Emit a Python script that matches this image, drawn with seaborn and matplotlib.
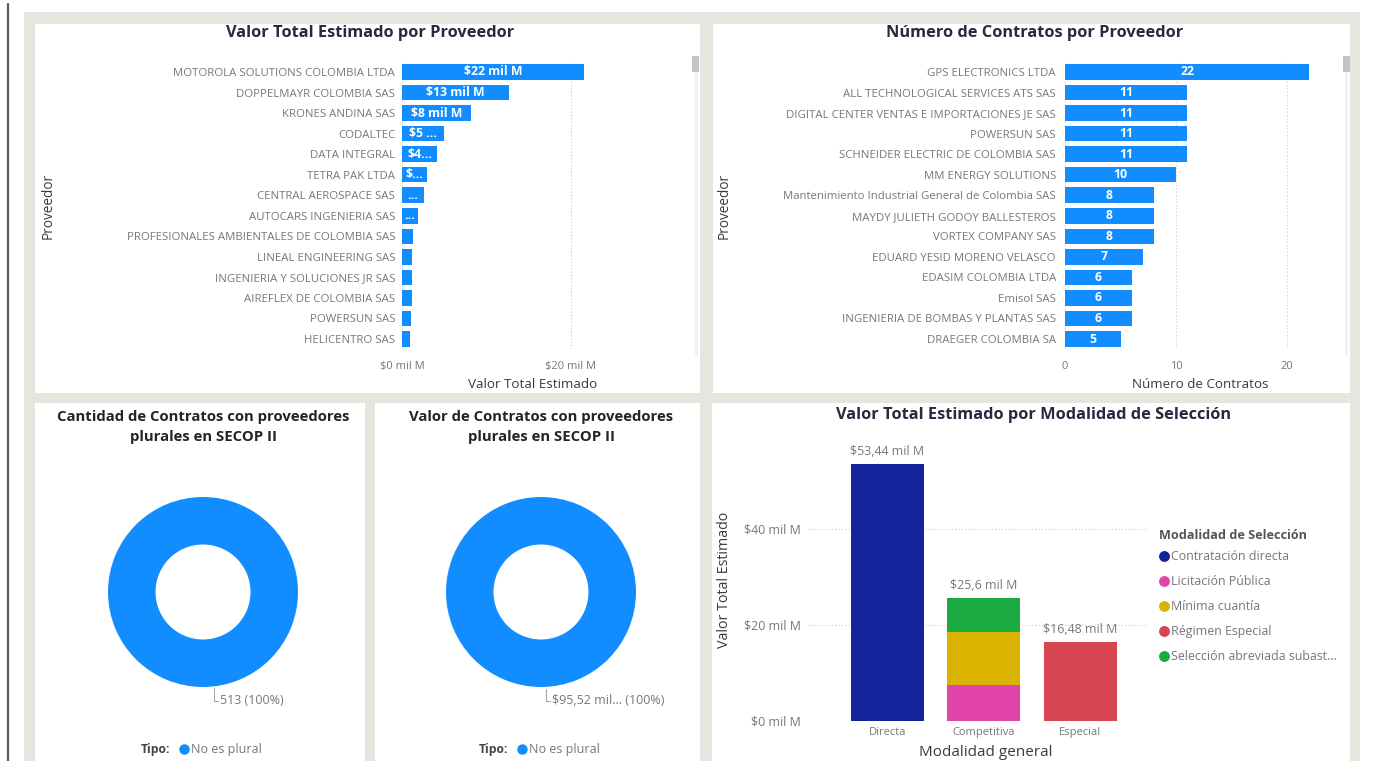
import numpy as np
import pandas as pd
import matplotlib
matplotlib.use("Agg")
import matplotlib.pyplot as plt
import seaborn as sns
from matplotlib.patches import Rectangle
from matplotlib.lines import Line2D

# ---------------- data ----------------
prov_valor = ["MOTOROLA SOLUTIONS COLOMBIA LTDA", "DOPPELMAYR COLOMBIA SAS", "KRONES ANDINA SAS",
              "CODALTEC", "DATA INTEGRAL", "TETRA PAK LTDA", "CENTRAL AEROSPACE SAS",
              "AUTOCARS INGENIERIA SAS", "PROFESIONALES AMBIENTALES DE COLOMBIA SAS",
              "LINEAL ENGINEERING SAS", "INGENIERIA Y SOLUCIONES JR SAS", "AIREFLEX DE COLOMBIA SAS",
              "POWERSUN SAS", "HELICENTRO SAS"]
valor_mil_m = [21.5, 12.7, 8.2, 5.0, 4.2, 3.0, 2.6, 1.9, 1.3, 1.2, 1.2, 1.15, 1.1, 1.0]
valor_labels = ["$22 mil M", "$13 mil M", "$8 mil M", "$5 ...", "$4...", "$...", "...", "...",
                "", "", "", "", "", ""]

prov_contratos = ["GPS ELECTRONICS LTDA", "ALL TECHNOLOGICAL SERVICES ATS SAS",
                  "DIGITAL CENTER VENTAS E IMPORTACIONES JE SAS", "POWERSUN SAS",
                  "SCHNEIDER ELECTRIC DE COLOMBIA SAS", "MM ENERGY SOLUTIONS",
                  "Mantenimiento Industrial General de Colombia SAS", "MAYDY JULIETH GODOY BALLESTEROS",
                  "VORTEX COMPANY SAS", "EDUARD YESID MORENO VELASCO", "EDASIM COLOMBIA LTDA",
                  "Emisol SAS", "INGENIERIA DE BOMBAS Y PLANTAS SAS", "DRAEGER COLOMBIA SA"]
n_contratos = [22, 11, 11, 11, 11, 10, 8, 8, 8, 7, 6, 6, 6, 5]

tipo = ["No es plural"]
cantidad_tipo = [513]
valor_tipo_label = ["$95,52 mil... (100%)"]
cantidad_tipo_label = ["513 (100%)"]

general_cats = ["Directa", "Competitiva", "Especial"]
mod_general = ["Directa", "Competitiva", "Competitiva", "Competitiva", "Especial"]
mod_seleccion = ["Contratación directa", "Licitación Pública", "Mínima cuantía",
                 "Selección abreviada subast...", "Régimen Especial"]
mod_valor = [53.44, 7.4, 11.1, 7.1, 16.48]
legend_order = ["Contratación directa", "Licitación Pública", "Mínima cuantía",
                "Régimen Especial", "Selección abreviada subast..."]
mod_colors = {"Contratación directa": "#12239E", "Licitación Pública": "#E044A7",
              "Mínima cuantía": "#D9B300", "Régimen Especial": "#D64550",
              "Selección abreviada subast...": "#1AAB40"}

BLUE = "#118DFF"
TITLE_C = "#252a40"
TICK_C = "#777777"
LAB_C = "#3a3a3a"

# ---------------- setup ----------------
sns.set_theme(style="white")
plt.rcParams["font.family"] = ["Open Sans", "DejaVu Sans"]

W, H = 1377, 761
fig = plt.figure(figsize=(W / 100, H / 100), dpi=100)
fig.patch.set_facecolor("white")


def box(x0, y0, x1, y1):
    return [x0 / W, 1 - y1 / H, (x1 - x0) / W, (y1 - y0) / H]


def fx(x):
    return x / W


def fy(y):
    return 1 - y / H


def rect(x0, y0, x1, y1, color, z=-5):
    fig.add_artist(Rectangle((fx(x0), fy(y1)), (x1 - x0) / W, (y1 - y0) / H,
                             transform=fig.transFigure, facecolor=color, edgecolor="none", zorder=z))


# background frame and panels
rect(24, 12, 1360, 761, "#e6e6de", z=-10)
for (a, b, c, d) in [(35, 24, 700, 393), (713, 24, 1350, 393), (35, 403, 365, 761),
                     (375, 403, 700, 761), (712, 403, 1350, 761)]:
    rect(a, b, c, d, "white", z=-9)
fig.add_artist(Line2D([fx(8), fx(8)], [0, fy(4)], color="#5a5a5a", lw=1.6, transform=fig.transFigure))

# scrollbars
fig.add_artist(Line2D([fx(696), fx(696)], [fy(56), fy(355)], color="#f0f0f0", lw=2, transform=fig.transFigure, zorder=-1))
rect(692, 56, 699, 72, "#c4c4c4", z=-1)
fig.add_artist(Line2D([fx(1346), fx(1346)], [fy(56), fy(355)], color="#f0f0f0", lw=2, transform=fig.transFigure, zorder=-1))
rect(1343, 56, 1350, 72, "#c4c4c4", z=-1)


def style_hbar(ax):
    ax.set_facecolor("none")
    for s in ax.spines.values():
        s.set_visible(False)
    ax.grid(axis="x", linestyle=(0, (1, 2)), color="#c9c9c9", lw=0.8)
    ax.grid(axis="y", visible=False)
    ax.set_axisbelow(True)
    ax.tick_params(axis="y", length=0, pad=5, labelsize=8.2, labelcolor=TICK_C)
    ax.tick_params(axis="x", length=0, pad=8.5, labelsize=8, labelcolor=TICK_C)


# ---------------- top-left: valor por proveedor ----------------
ax1 = fig.add_axes(box(402, 61.7, 664, 349.3))
df1 = pd.DataFrame({"Proveedor": prov_valor, "Valor": valor_mil_m})
sns.barplot(data=df1, y="Proveedor", x="Valor", orient="h", color=BLUE, saturation=1,
            width=0.76, linewidth=0, errorbar=None, ax=ax1)
ax1.set_xlim(0, 31)
ax1.set_ylim(13.5, -0.5)
ax1.set_xticks([0, 20])
ax1.set_xticklabels(["$0 mil M", "$20 mil M"])
style_hbar(ax1)
ax1.bar_label(ax1.containers[0], labels=valor_labels, label_type="center", color="white",
              fontsize=8.8, fontweight="bold")
ax1.set_xlabel("Valor Total Estimado", fontsize=9.7, color=LAB_C)
ax1.xaxis.label.set_va("center")
ax1.xaxis.set_label_coords(0.5, -(385 - 349.3) / 287.6)
ax1.set_ylabel("Proveedor", fontsize=9.8, color=LAB_C)
ax1.yaxis.label.set(va="center", ha="center")
ax1.yaxis.set_label_coords((48 - 402) / 262, 0.5)
fig.text(fx(370), fy(33), "Valor Total Estimado por Proveedor", ha="center", va="center",
         fontsize=11.8, fontweight="bold", color=TITLE_C)

# ---------------- top-right: número de contratos ----------------
ax2 = fig.add_axes(box(1065, 61.7, 1335, 349.3))
df2 = pd.DataFrame({"Proveedor": prov_contratos, "Contratos": n_contratos})
sns.barplot(data=df2, y="Proveedor", x="Contratos", orient="h", color=BLUE, saturation=1,
            width=0.76, linewidth=0, errorbar=None, ax=ax2)
ax2.set_xlim(0, 24.3)
ax2.set_ylim(13.5, -0.5)
ax2.set_xticks([0, 10, 20])
style_hbar(ax2)
ax2.tick_params(axis="y", pad=6.5)
ax2.bar_label(ax2.containers[0], labels=[str(v) for v in n_contratos], label_type="center",
              color="white", fontsize=8.8, fontweight="bold")
ax2.set_xlabel("Número de Contratos", fontsize=9.6, color=LAB_C)
ax2.xaxis.label.set_va("center")
ax2.xaxis.set_label_coords(0.5, -(385 - 349.3) / 287.6)
ax2.set_ylabel("Proveedor", fontsize=9.8, color=LAB_C)
ax2.yaxis.label.set(va="center", ha="center")
ax2.yaxis.set_label_coords((724 - 1065) / 270, 0.5)
fig.text(fx(1035), fy(33), "Número de Contratos por Proveedor", ha="center", va="center",
         fontsize=11.8, fontweight="bold", color=TITLE_C)


# ---------------- donuts ----------------
def donut(cx, title1, title2, values, label, lead_x, tipo_x):
    r = 95.0
    half = 130.0
    ax = fig.add_axes(box(cx - half, 592 - half, cx + half, 592 + half))
    ax.pie(values, colors=[BLUE], radius=1, startangle=90, counterclock=False,
           wedgeprops=dict(width=0.5, linewidth=0))
    lim = half / r
    ax.set_xlim(-lim, lim)
    ax.set_ylim(-lim, lim)
    ax.set_aspect("equal")
    ax.axis("off")
    lx = (lead_x - cx) / r
    ly0 = -np.sqrt(max(1 - lx ** 2, 0)) - 0.02
    ly1 = -(701 - 592) / r
    ax.plot([lx, lx, lx + 0.04], [ly0, ly1, ly1], color="#aaaaaa", lw=0.8, clip_on=False)
    ax.text(lx + 0.06, ly1, label, ha="left", va="center", fontsize=9, color=TICK_C, clip_on=False)
    fig.text(fx(cx), fy(417), title1, ha="center", va="center", fontsize=10.7, fontweight="bold", color="#252423")
    fig.text(fx(cx), fy(437), title2, ha="center", va="center", fontsize=10.7, fontweight="bold", color="#252423")
    fig.text(fx(tipo_x), fy(749), "Tipo:", ha="left", va="center", fontsize=8.7, fontweight="bold", color="#444444")
    fig.add_artist(Line2D([fx(tipo_x + 43)], [fy(749)], marker="o", markersize=6.5, color=BLUE,
                          lw=0, transform=fig.transFigure))
    fig.text(fx(tipo_x + 50), fy(749), tipo[0], ha="left", va="center", fontsize=9, color=TICK_C)


donut(203, "Cantidad de Contratos con proveedores", "plurales en SECOP II",
      cantidad_tipo, cantidad_tipo_label[0], 214, 141)
donut(541, "Valor de Contratos con proveedores", "plurales en SECOP II",
      [sum(mod_valor)], valor_tipo_label[0], 546, 479)

# ---------------- bottom-right: stacked bars ----------------
ax5 = fig.add_axes(box(808, 440, 1148, 721))
df5 = pd.DataFrame({"General": mod_general, "Modalidad": mod_seleccion, "Valor": mod_valor})
df5["Base"] = df5.groupby("General")["Valor"].cumsum() - df5["Valor"]
for _, row in df5.iterrows():
    sns.barplot(x=[row["General"]], y=[row["Valor"]], order=general_cats,
                color=mod_colors[row["Modalidad"]], saturation=1, width=0.757,
                bottom=row["Base"], linewidth=0, errorbar=None, ax=ax5)
totals = df5.groupby("General")["Valor"].sum().reindex(general_cats)
for i, tot in enumerate(totals):
    txt = "$" + f"{round(tot, 2):g}".replace(".", ",") + " mil M"
    ax5.annotate(txt, (i, tot), xytext=(0, 4.5), textcoords="offset points", ha="center",
                 va="bottom", fontsize=8.9, color=TICK_C)
ax5.set_xlim(-0.82, 2.70)
ax5.set_ylim(0, 58.5)
ax5.set_yticks([0, 20, 40])
ax5.set_yticklabels(["$0 mil M", "$20 mil M", "$40 mil M"])
ax5.set_facecolor("none")
for s in ax5.spines.values():
    s.set_visible(False)
ax5.grid(axis="y", linestyle=(0, (1, 2)), color="#cfcfcf", lw=0.8)
ax5.grid(axis="x", visible=False)
ax5.set_axisbelow(True)
ax5.tick_params(axis="y", length=0, pad=5, labelsize=8.9, labelcolor=TICK_C)
ax5.tick_params(axis="x", length=0, pad=4.2, labelsize=8, labelcolor=TICK_C)
ax5.set_xlabel("Modalidad general", fontsize=11, color=LAB_C)
ax5.xaxis.label.set_va("center")
ax5.xaxis.set_label_coords((986 - 808) / 340, -(753 - 721) / 281)
ax5.set_ylabel("Valor Total Estimado", fontsize=10.3, color=LAB_C)
ax5.yaxis.label.set(va="center", ha="center")
ax5.yaxis.set_label_coords((724 - 808) / 340, 1 - (580 - 440) / 281)
fig.text(fx(1034), fy(415), "Valor Total Estimado por Modalidad de Selección", ha="center",
         va="center", fontsize=11.8, fontweight="bold", color=TITLE_C)

fig.text(fx(1159), fy(535.5), "Modalidad de Selección", ha="left", va="center",
         fontsize=9.1, fontweight="bold", color="#555555")
handles = [Line2D([0], [0], marker="o", lw=0, markersize=6.8, color=mod_colors[m]) for m in legend_order]
leg = fig.legend(handles, legend_order, loc="upper left", bbox_to_anchor=(fx(1160), fy(550.5)),
                 frameon=False, fontsize=8.9, handlelength=0.6, handletextpad=0.25,
                 labelspacing=0.97, borderpad=0, borderaxespad=0)
for t in leg.get_texts():
    t.set_color(TICK_C)

fig.savefig("out.png", dpi=100, facecolor="white")
